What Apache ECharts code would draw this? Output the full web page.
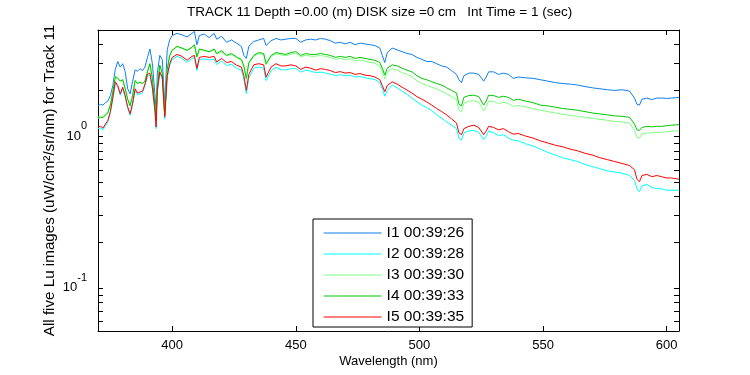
<!DOCTYPE html>
<html>
<head>
<meta charset="utf-8">
<title>Track 11 Lu</title>
<script src="https://cdn.jsdelivr.net/npm/echarts@6/dist/echarts.min.js"></script>
<style>
    html, body { margin: 0; padding: 0; background: #fff; }
    #luChart { width: 750px; height: 375px; }
</style>
</head>
<body>
<div id="luChart"></div>
<script>
// wavelength grid (nm), one value per grid point in each of the five spectra
var wavelength = [
    370, 371, 372, 373, 374, 375, 376, 377, 378, 379,
    380, 381, 382, 383, 384, 385, 386, 387, 388, 389,
    390, 391, 392, 393, 393.5, 394, 395, 396, 397, 398,
    399, 400, 402, 404, 406, 408, 409, 410, 411, 413,
    415, 417, 418, 420, 422, 424, 426, 428, 429, 430,
    431, 433, 435, 437, 438, 440, 442, 444, 446, 448,
    450, 452, 454, 456, 458, 460, 462, 464, 466, 468,
    470, 472, 474, 476, 478, 480, 482, 484, 485, 486,
    487, 489, 491, 493, 495, 497, 499, 501, 503, 505,
    507, 509, 511, 513, 515, 516, 517, 518, 520, 522,
    524, 526, 527, 528, 530, 532, 534, 536, 538, 540,
    543, 546, 549, 552, 555, 558, 561, 564, 567, 570,
    573, 576, 579, 582, 585, 587, 588, 589, 590, 592,
    594, 596, 598, 600, 602, 605
]

var lu1 = [
    1.58, 1.62, 1.60, 1.66, 1.70, 1.85, 2.15, 2.75, 3.10, 2.85,
    3.00, 2.65, 2.05, 1.90, 2.30, 2.72, 2.68, 2.78, 2.70, 2.85,
    3.30, 3.75, 3.00, 1.90, 1.45, 2.60, 3.40, 3.20, 1.60, 3.70,
    4.30, 4.60, 4.75, 4.65, 4.50, 4.75, 4.90, 4.00, 4.60, 4.70,
    4.45, 4.75, 4.35, 4.55, 4.15, 4.30, 4.10, 3.90, 3.40, 3.25,
    3.90, 4.20, 4.30, 4.40, 3.95, 4.25, 4.40, 4.30, 4.35, 4.40,
    4.40, 4.15, 4.30, 4.35, 4.30, 4.40, 4.35, 4.25, 4.10, 4.15,
    4.05, 4.15, 4.00, 4.10, 4.05, 4.00, 3.95, 3.80, 3.40, 3.05,
    3.55, 3.80, 3.70, 3.60, 3.50, 3.45, 3.30, 3.20, 3.10, 3.10,
    3.00, 2.90, 2.85, 2.70, 2.55, 2.35, 2.25, 2.50, 2.60, 2.60,
    2.55, 2.30, 2.45, 2.65, 2.65, 2.55, 2.60, 2.55, 2.40, 2.45,
    2.42, 2.40, 2.35, 2.30, 2.25, 2.22, 2.20, 2.17, 2.12, 2.08,
    2.05, 2.02, 2.00, 2.02, 1.98, 1.78, 1.62, 1.60, 1.75, 1.78,
    1.74, 1.78, 1.78, 1.77, 1.78, 1.80
]

var lu2 = [
    1.12, 1.13, 1.10, 1.17, 1.24, 1.42, 1.76, 2.22, 2.10, 1.86,
    2.05, 1.80, 1.52, 1.37, 1.60, 2.00, 1.87, 1.90, 1.93, 2.14,
    2.48, 2.53, 2.04, 1.46, 1.12, 1.95, 2.58, 2.38, 1.30, 2.43,
    2.92, 3.20, 3.35, 3.25, 3.06, 3.24, 3.30, 2.70, 3.18, 3.23,
    3.17, 3.22, 2.96, 3.12, 2.92, 2.97, 2.80, 2.72, 2.38, 1.90,
    2.42, 2.80, 2.85, 2.80, 2.32, 2.70, 2.84, 2.74, 2.73, 2.78,
    2.78, 2.64, 2.72, 2.68, 2.62, 2.64, 2.60, 2.56, 2.50, 2.54,
    2.50, 2.52, 2.45, 2.47, 2.42, 2.39, 2.36, 2.25, 2.05, 1.83,
    2.00, 2.17, 2.08, 1.98, 1.88, 1.78, 1.68, 1.60, 1.54, 1.47,
    1.38, 1.31, 1.24, 1.18, 1.12, 0.97, 0.94, 1.05, 1.08, 1.09,
    1.06, 0.95, 1.00, 1.08, 1.05, 1.01, 1.02, 0.97, 0.94, 0.93,
    0.89, 0.86, 0.82, 0.78, 0.75, 0.72, 0.70, 0.68, 0.65, 0.63,
    0.61, 0.59, 0.58, 0.57, 0.55, 0.51, 0.45, 0.43, 0.47, 0.48,
    0.46, 0.45, 0.45, 0.44, 0.44, 0.44
]

var lu3 = [
    1.33, 1.36, 1.34, 1.40, 1.44, 1.62, 1.97, 2.47, 2.42, 2.32,
    2.36, 2.06, 1.76, 1.60, 1.86, 2.33, 2.22, 2.27, 2.22, 2.30,
    2.65, 3.00, 2.40, 1.60, 1.30, 2.10, 2.92, 2.60, 1.38, 2.74,
    3.38, 3.66, 3.88, 3.78, 3.66, 3.82, 3.97, 3.30, 3.72, 3.65,
    3.57, 3.72, 3.46, 3.60, 3.37, 3.45, 3.28, 3.15, 2.85, 2.36,
    3.00, 3.35, 3.50, 3.44, 2.95, 3.34, 3.48, 3.43, 3.38, 3.47,
    3.52, 3.32, 3.42, 3.36, 3.36, 3.40, 3.35, 3.30, 3.20, 3.25,
    3.19, 3.23, 3.13, 3.17, 3.12, 3.06, 3.02, 2.90, 2.65, 2.38,
    2.64, 2.78, 2.72, 2.62, 2.55, 2.46, 2.32, 2.22, 2.16, 2.10,
    2.04, 1.98, 1.90, 1.82, 1.74, 1.48, 1.45, 1.64, 1.70, 1.71,
    1.67, 1.47, 1.56, 1.70, 1.69, 1.64, 1.67, 1.64, 1.57, 1.59,
    1.56, 1.52, 1.48, 1.45, 1.42, 1.39, 1.37, 1.35, 1.33, 1.31,
    1.29, 1.27, 1.25, 1.24, 1.22, 1.09, 0.98, 0.97, 1.03, 1.05,
    1.05, 1.06, 1.06, 1.07, 1.08, 1.08
]

var lu4 = [
    1.30, 1.33, 1.32, 1.38, 1.42, 1.60, 1.95, 2.45, 2.40, 2.30,
    2.35, 2.05, 1.75, 1.58, 1.85, 2.32, 2.22, 2.26, 2.22, 2.30,
    2.65, 3.00, 2.40, 1.60, 1.27, 2.10, 2.93, 2.60, 1.37, 2.75,
    3.40, 3.68, 3.90, 3.80, 3.68, 3.85, 4.00, 3.33, 3.75, 3.68,
    3.60, 3.75, 3.50, 3.65, 3.41, 3.50, 3.33, 3.20, 2.90, 2.40,
    3.05, 3.40, 3.55, 3.50, 3.00, 3.40, 3.55, 3.50, 3.45, 3.55,
    3.60, 3.40, 3.50, 3.45, 3.45, 3.50, 3.45, 3.40, 3.30, 3.35,
    3.30, 3.35, 3.25, 3.30, 3.25, 3.20, 3.16, 3.05, 2.80, 2.52,
    2.80, 2.95, 2.90, 2.80, 2.72, 2.65, 2.50, 2.40, 2.35, 2.28,
    2.22, 2.17, 2.08, 2.00, 1.92, 1.62, 1.58, 1.80, 1.85, 1.86,
    1.82, 1.60, 1.70, 1.86, 1.85, 1.80, 1.83, 1.80, 1.72, 1.75,
    1.70, 1.66, 1.60, 1.58, 1.55, 1.52, 1.50, 1.48, 1.45, 1.42,
    1.40, 1.38, 1.36, 1.35, 1.33, 1.20, 1.10, 1.09, 1.14, 1.16,
    1.15, 1.16, 1.16, 1.17, 1.18, 1.19
]

var lu5 = [
    1.15, 1.16, 1.13, 1.20, 1.27, 1.45, 1.80, 2.28, 2.15, 1.90,
    2.10, 1.85, 1.56, 1.40, 1.65, 2.05, 1.92, 1.95, 1.98, 2.20,
    2.55, 2.60, 2.10, 1.50, 1.15, 2.00, 2.65, 2.45, 1.34, 2.50,
    3.00, 3.30, 3.45, 3.35, 3.16, 3.35, 3.40, 2.79, 3.30, 3.35,
    3.30, 3.35, 3.08, 3.25, 3.05, 3.10, 2.93, 2.85, 2.50, 2.00,
    2.55, 2.95, 3.00, 2.95, 2.45, 2.85, 3.00, 2.90, 2.90, 2.95,
    2.90, 2.75, 2.85, 2.80, 2.72, 2.78, 2.75, 2.70, 2.62, 2.66,
    2.60, 2.62, 2.55, 2.58, 2.52, 2.50, 2.45, 2.35, 2.15, 1.96,
    2.15, 2.28, 2.20, 2.10, 2.01, 1.92, 1.82, 1.75, 1.68, 1.60,
    1.52, 1.45, 1.38, 1.30, 1.22, 1.05, 1.02, 1.12, 1.16, 1.18,
    1.14, 1.02, 1.08, 1.16, 1.14, 1.10, 1.12, 1.07, 1.03, 1.04,
    1.00, 0.97, 0.93, 0.90, 0.87, 0.85, 0.82, 0.80, 0.77, 0.75,
    0.72, 0.70, 0.68, 0.66, 0.64, 0.60, 0.52, 0.50, 0.55, 0.56,
    0.54, 0.55, 0.54, 0.53, 0.53, 0.52
]

var seriesNames = ['I1 00:39:26', 'I2 00:39:28', 'I3 00:39:30', 'I4 00:39:33', 'I5 00:39:35']
var seriesColors = ['#0f7ff0', '#00ffff', '#80ff80', '#00c800', '#ff0000']
var xTicks = [400, 450, 500, 550, 600]
var yLabels = [0.1, 1]
var yTicks = [0.06, 0.07, 0.08, 0.09, 0.1, 0.2, 0.3, 0.4, 0.5, 0.6, 0.7, 0.8, 0.9, 1, 2, 3, 4, 5]

var FONT = '"Liberation Sans", Arial, sans-serif'

function pairs(values) {
    return wavelength.map(function (w, i) {
        return [w, values[i]]
    })
}

function makeSeries(idx, values) {
    return {
        name: seriesNames[idx],
        type: 'line',
        xAxisIndex: 0,
        yAxisIndex: 0,
        symbol: 'none',
        color: seriesColors[idx],
        lineStyle: {
            width: 1,
            color: seriesColors[idx]
        },
        itemStyle: {
            color: seriesColors[idx]
        },
        data: pairs(values)
    }
}

// same black box axis on all four sides, ticks pointing in
function boxAxis(extra) {
    var axis = {
        axisLine: {
            show: true,
            onZero: false,
            lineStyle: { color: '#000', width: 1 }
        },
        axisTick: {
            show: true,
            inside: true,
            length: 5,
            lineStyle: { color: '#000', width: 1 }
        },
        axisLabel: { show: false },
        splitLine: { show: false }
    }
    for (var k in extra) {
        if (typeof extra[k] === 'object' && axis[k] && !Array.isArray(extra[k])) {
            axis[k] = Object.assign({}, axis[k], extra[k])
        } else {
            axis[k] = extra[k]
        }
    }
    return axis
}

var luChart = echarts.init(document.getElementById('luChart'))
luChart.setOption({
    animation: false,
    backgroundColor: '#fff',
    textStyle: {
        fontFamily: FONT
    },
    title: {
        text: 'TRACK 11 Depth =0.00 (m) DISK size =0 cm   Int Time = 1 (sec)',
        left: 187,
        top: 5,
        padding: 0,
        textStyle: {
            fontFamily: FONT,
            fontSize: 13.5,
            fontWeight: 'normal',
            color: '#000'
        }
    },
    legend: {
        data: seriesNames.map(function (n, i) {
            return {
                name: n,
                itemStyle: { opacity: 0 },
                lineStyle: { color: seriesColors[i], width: 1.2, opacity: 1 }
            }
        }),
        orient: 'vertical',
        left: 313,
        top: 219,
        padding: [6, 8, 2, 10],
        itemWidth: 58,
        itemHeight: 15,
        itemGap: 5,
        borderColor: '#000',
        borderWidth: 1,
        backgroundColor: '#fff',
        textStyle: {
            fontFamily: FONT,
            fontSize: 15.5,
            color: '#000'
        }
    },
    grid: {
        left: 98,
        right: 71,
        top: 30,
        bottom: 44,
        outerBoundsMode: 'none'
    },
    xAxis: [
        boxAxis({
            type: 'value',
            min: 370,
            max: 605,
            name: 'Wavelength (nm)',
            nameLocation: 'middle',
            nameGap: 24,
            nameMoveOverlap: false,
            nameTextStyle: {
                fontFamily: FONT,
                fontSize: 13,
                color: '#000'
            },
            axisTick: { customValues: xTicks },
            axisLabel: {
                show: true,
                margin: 8,
                customValues: xTicks,
                fontFamily: FONT,
                fontSize: 13,
                color: '#000'
            }
        }),
        boxAxis({
            type: 'value',
            position: 'top',
            min: 370,
            max: 605,
            axisTick: { customValues: xTicks }
        })
    ],
    yAxis: [
        boxAxis({
            type: 'log',
            logBase: 10,
            min: 0.052,
            max: 5,
            name: 'All five Lu images (uW/cm²/sr/nm) for Track 11',
            nameLocation: 'middle',
            nameGap: 41,
            nameMoveOverlap: false,
            nameTextStyle: {
                fontFamily: FONT,
                fontSize: 15.2,
                color: '#000'
            },
            axisTick: { customValues: yTicks },
            axisLabel: {
                show: true,
                margin: 11,
                customValues: yLabels,
                formatter: function (v) {
                    return '{b|10}{s|' + Math.round(Math.log10(v)) + '}'
                },
                rich: {
                    b: {
                        fontFamily: FONT,
                        fontSize: 13,
                        color: '#000'
                    },
                    s: {
                        fontFamily: FONT,
                        fontSize: 11,
                        color: '#000',
                        padding: [0, 0, 20, 0]
                    }
                }
            }
        }),
        boxAxis({
            type: 'log',
            logBase: 10,
            min: 0.052,
            max: 5,
            position: 'right',
            axisTick: { customValues: yTicks }
        })
    ],
    series: [
        makeSeries(0, lu1),
        makeSeries(1, lu2),
        makeSeries(2, lu3),
        makeSeries(3, lu4),
        makeSeries(4, lu5)
    ]
})
</script>
</body>
</html>
